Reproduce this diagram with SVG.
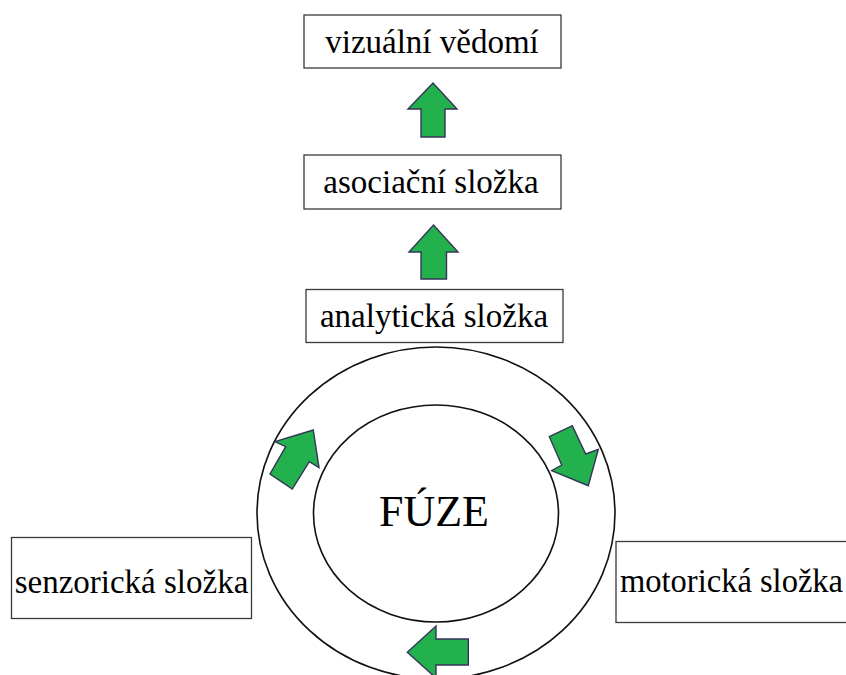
<svg xmlns="http://www.w3.org/2000/svg" width="846" height="675" viewBox="0 0 846 675">
  <style>
    .box { fill: #ffffff; stroke: #3a3a3a; stroke-width: 1.3; }
    .lbl { font-family: 'Liberation Serif', 'DejaVu Serif', serif; font-size: 33px; fill: #000000; }
    .big { font-family: 'Liberation Serif', 'DejaVu Serif', serif; font-size: 44px; fill: #000000; }
    .ring { fill: none; stroke: #111111; stroke-width: 1.6; }
    .arrow { fill: #22b14c; stroke: #34345a; stroke-width: 1.4; stroke-linejoin: miter; }
  </style>
  <rect width="846" height="675" fill="#ffffff"/>

  <!-- fusion ring -->
  <g id="fuze">
    <ellipse class="ring" cx="436" cy="513" rx="179" ry="166"/>
    <ellipse class="ring" cx="436" cy="513.5" rx="122.5" ry="108.5"/>
    <text class="big" x="434" y="526" text-anchor="middle">FÚZE</text>
  </g>

  <g id="vizualni-vedomi">
    <rect class="box" x="304" y="15" width="257" height="53"/>
    <text class="lbl" x="432" y="53" text-anchor="middle">vizuální vědomí</text>
  </g>

  <g id="asociacni-slozka">
    <rect class="box" x="304" y="155" width="257" height="54"/>
    <text class="lbl" x="431" y="193" text-anchor="middle">asociační složka</text>
  </g>

  <g id="analyticka-slozka">
    <rect class="box" x="306" y="289.5" width="257" height="53"/>
    <text class="lbl" x="434" y="326.5" text-anchor="middle">analytická složka</text>
  </g>

  <g id="senzoricka-slozka">
    <rect class="box" x="11.5" y="537.5" width="240" height="81"/>
    <text class="lbl" x="131.5" y="592.5" text-anchor="middle">senzorická složka</text>
  </g>

  <g id="motoricka-slozka">
    <rect class="box" x="616" y="541.5" width="240" height="81"/>
    <text class="lbl" x="620" y="591.5" textLength="223" lengthAdjust="spacingAndGlyphs">motorická složka</text>
  </g>

  <!-- block arrows -->
  <g id="connectors">
    <polygon class="arrow" points="433,83 457,109 445,109 445,137 421,137 421,109 408,109"/>
    <polygon class="arrow" points="433.5,225 458,252 446.5,252 446.5,279 421,279 421,252 409,252"/>
    <polygon class="arrow" points="313.3,430 319,467.7 309.3,461.7 292.3,489 270,474 285.7,446.7 275,441.7"/>
    <polygon class="arrow" points="549.3,436.7 572.3,425.7 585.7,454 598.3,449.3 588.3,485.7 551.7,470.7 561.7,465"/>
    <polygon class="arrow" points="407.3,652.3 436,626 436,639 468.3,639 468.3,665 436,665 436,678"/>
  </g>
</svg>
